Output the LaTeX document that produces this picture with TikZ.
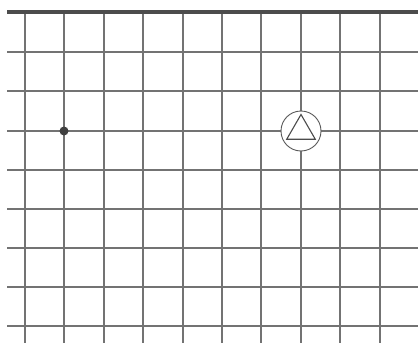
\documentclass[tikz,border=0pt]{standalone}
\usetikzlibrary{shapes.geometric}
\begin{document}
\begin{tikzpicture}[x=1pt,y=-1pt,
  gridline/.style={draw=black!55,line width=1.3pt},
  topline/.style={draw=black!70,line width=4pt},
  dotnode/.style={circle,fill=black!75,inner sep=0pt,minimum size=9pt},
  ringnode/.style={circle,draw=black!65,fill=white,line width=0.9pt,inner sep=0pt,minimum size=40pt},
  trinode/.style={regular polygon,regular polygon sides=3,draw=black!70,line width=1.1pt,inner sep=0pt,minimum size=33pt}]
\useasboundingbox (0,0) rectangle (418,343);
\foreach \x in {25,64,104,143,183,222,261,301,340,380}
  \draw[gridline] (\x,12) -- (\x,343);
\foreach \y in {52,91,131,170,209,248,287,326}
  \draw[gridline] (7,\y) -- (418,\y);
\draw[topline] (7,12) -- (418,12);
\node[dotnode] (dot) at (64,131) {};
\node[ringnode] (ring) at (301,131) {};
\node[trinode] (tri) at (301,131) {};
\end{tikzpicture}
\end{document}
